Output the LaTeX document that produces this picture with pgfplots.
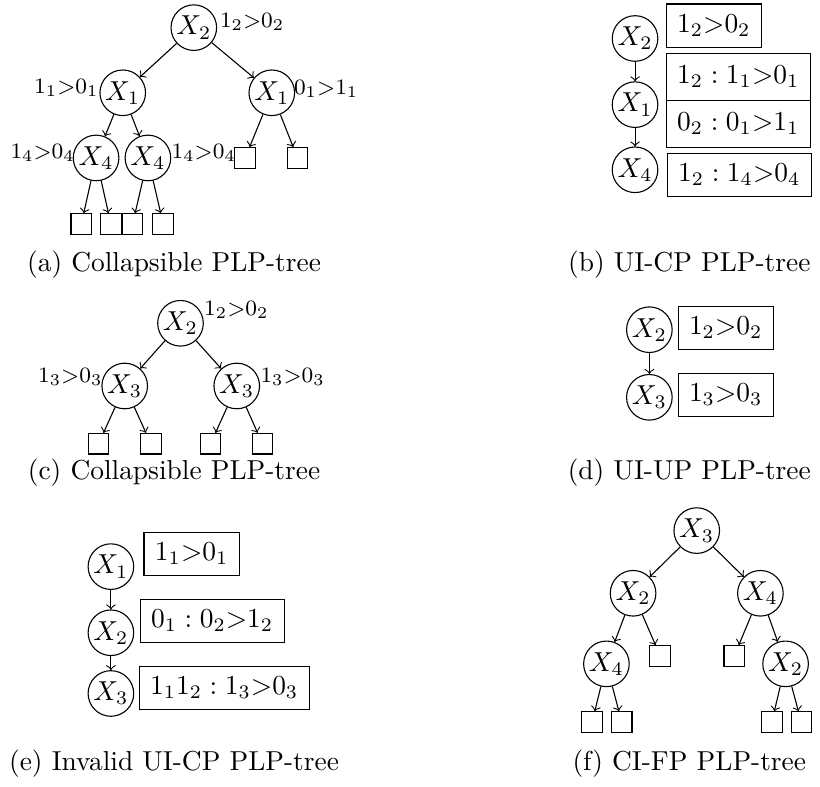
\documentclass[border=0pt]{standalone}
\usepackage{pgfplots}
\pgfplotsset{compat=1.18}
\begin{document}
\begin{tikzpicture}[
  cn/.style={circle,draw,minimum size=16.6pt,inner sep=0.5pt},
  lf/.style={rectangle,draw,minimum size=7.5pt,inner sep=0pt},
  bx/.style={rectangle,draw,minimum height=15.8pt,inner xsep=4pt,anchor=west},
  bxt/.style={rectangle,draw,minimum height=17pt,inner xsep=4pt,anchor=west},
  lb/.style={font=\footnotesize,inner sep=0pt},
  >=to]
\begin{axis}[scale only axis, width=295.2pt, height=285.84pt,
  xmin=0, xmax=820, ymin=0, ymax=794, y dir=reverse, hide axis, clip=false]
\path (axis cs:0,0) (axis cs:820,794);
% ---------- (a)
\node[cn] (a0) at (axis cs:190,28) {$X_2$};
\node[cn] (a1) at (axis cs:118,94) {$X_1$};
\node[cn] (a2) at (axis cs:269,94) {$X_1$};
\node[cn] (a3) at (axis cs:91,160) {$X_4$};
\node[cn] (a4) at (axis cs:143.5,160) {$X_4$};
\node[lf] (a5) at (axis cs:242,160) {};
\node[lf] (a6) at (axis cs:295,160) {};
\node[lf] (a7) at (axis cs:76,227) {};
\node[lf] (a8) at (axis cs:106,227) {};
\node[lf] (a9) at (axis cs:128,227) {};
\node[lf] (a10) at (axis cs:159,227) {};
\draw[->] (a0) -- (a1); \draw[->] (a0) -- (a2);
\draw[->] (a1) -- (a3); \draw[->] (a1) -- (a4);
\draw[->] (a2) -- (a5); \draw[->] (a2) -- (a6);
\draw[->] (a3) -- (a7); \draw[->] (a3) -- (a8);
\draw[->] (a4) -- (a9); \draw[->] (a4) -- (a10);
\node[lb,anchor=base west] at (axis cs:216,28) {$1_2{>}0_2$};
\node[lb,anchor=base east] at (axis cs:94,95) {$1_1{>}0_1$};
\node[lb,anchor=base west] at (axis cs:291,96) {$0_1{>}1_1$};
\node[lb,anchor=base east] at (axis cs:70,161) {$1_4{>}0_4$};
\node[lb,anchor=base west] at (axis cs:167,161) {$1_4{>}0_4$};
\node at (axis cs:170,268) {(a) Collapsible PLP-tree};
% ---------- (b)
\node[cn] (b0) at (axis cs:637,39) {$X_2$};
\node[cn] (b1) at (axis cs:637,106) {$X_1$};
\node[cn] (b2) at (axis cs:637,172) {$X_4$};
\draw[->] (b0) -- (b1); \draw[->] (b1) -- (b2);
\node[bx] at (axis cs:668,26) {$1_2{>}0_2$};
\node[bxt] at (axis cs:668,78) {$1_2:1_1{>}0_1$};
\node[bxt] at (axis cs:668,125.5) {$0_2:0_1{>}1_1$};
\node[bx] at (axis cs:669,177) {$1_2:1_4{>}0_4$};
\node at (axis cs:692,268) {(b) UI-CP PLP-tree};
% ---------- (c)
\node[cn] (c0) at (axis cs:176.5,327.5) {$X_2$};
\node[cn] (c1) at (axis cs:120,391) {$X_3$};
\node[cn] (c2) at (axis cs:233.5,391) {$X_3$};
\node[lf] (c3) at (axis cs:93.5,449.5) {};
\node[lf] (c4) at (axis cs:146.5,449.5) {};
\node[lf] (c5) at (axis cs:207,449.5) {};
\node[lf] (c6) at (axis cs:259.5,449.5) {};
\draw[->] (c0) -- (c1); \draw[->] (c0) -- (c2);
\draw[->] (c1) -- (c3); \draw[->] (c1) -- (c4);
\draw[->] (c2) -- (c5); \draw[->] (c2) -- (c6);
\node[lb,anchor=base west] at (axis cs:200,320) {$1_2{>}0_2$};
\node[lb,anchor=base east] at (axis cs:98,387) {$1_3{>}0_3$};
\node[lb,anchor=base west] at (axis cs:257,387) {$1_3{>}0_3$};
\node at (axis cs:170,479) {(c) Collapsible PLP-tree};
% ---------- (d)
\node[cn] (d0) at (axis cs:651.5,334) {$X_2$};
\node[cn] (d1) at (axis cs:651.5,402.5) {$X_3$};
\draw[->] (d0) -- (d1);
\node[bx] at (axis cs:680,332) {$1_2{>}0_2$};
\node[bx] at (axis cs:680,400) {$1_3{>}0_3$};
\node at (axis cs:692,479) {(d) UI-UP PLP-tree};
% ---------- (e)
\node[cn] (e0) at (axis cs:106,574) {$X_1$};
\node[cn] (e1) at (axis cs:106,641) {$X_2$};
\node[cn] (e2) at (axis cs:106,702.5) {$X_3$};
\draw[->] (e0) -- (e1); \draw[->] (e1) -- (e2);
\node[bx] at (axis cs:139,561) {$1_1{>}0_1$};
\node[bx] at (axis cs:135,629) {$0_1:0_2{>}1_2$};
\node[bx] at (axis cs:134,697) {$1_11_2:1_3{>}0_3$};
\node at (axis cs:170,774) {(e) Invalid UI-CP PLP-tree};
% ---------- (f)
\node[cn] (f0) at (axis cs:699.5,537.5) {$X_3$};
\node[cn] (f1) at (axis cs:635,601) {$X_2$};
\node[cn] (f2) at (axis cs:764,601) {$X_4$};
\node[cn] (f3) at (axis cs:608,672.5) {$X_4$};
\node[lf] (f4) at (axis cs:662.5,664.5) {};
\node[lf] (f5) at (axis cs:737.5,664.5) {};
\node[cn] (f6) at (axis cs:789.5,672.5) {$X_2$};
\node[lf] (f7) at (axis cs:593.5,731.5) {};
\node[lf] (f8) at (axis cs:623.5,731.5) {};
\node[lf] (f9) at (axis cs:775.5,731.5) {};
\node[lf] (f10) at (axis cs:805.5,731.5) {};
\draw[->] (f0) -- (f1); \draw[->] (f0) -- (f2);
\draw[->] (f1) -- (f3); \draw[->] (f1) -- (f4);
\draw[->] (f2) -- (f5); \draw[->] (f2) -- (f6);
\draw[->] (f3) -- (f7); \draw[->] (f3) -- (f8);
\draw[->] (f6) -- (f9); \draw[->] (f6) -- (f10);
\node at (axis cs:692,774) {(f) CI-FP PLP-tree};
\end{axis}
\end{tikzpicture}
\end{document}
